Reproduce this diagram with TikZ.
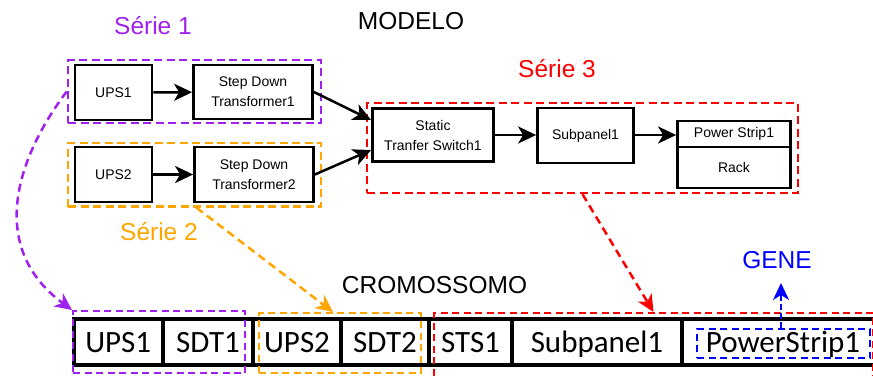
\documentclass[tikz,border=0pt]{standalone}
\usepackage{fontspec}
\setmainfont{Liberation Sans}
\newfontfamily\carl{Carlito}
\usetikzlibrary{arrows.meta,calc}
\definecolor{cpurple}{HTML}{A020F0}
\definecolor{corange}{HTML}{FFA500}
\definecolor{cred}{HTML}{FF0000}
\definecolor{cblue}{HTML}{0000FF}
\begin{document}
\begin{tikzpicture}[x=1pt,y=-1pt,
  box/.style={draw, line width=2.8pt, inner sep=0pt, align=center, font=\fontsize{14}{20}\selectfont},
  arr/.style={line width=2.5pt, -{Stealth[length=18pt,width=17pt,inset=5pt]}},
  grp/.style={draw, line width=2.5pt, dash pattern=on 8pt off 4.5pt, inner sep=0pt},
  cgrp/.style={draw, line width=2pt, dash pattern=on 7pt off 4.5pt, inner sep=0pt},
  darr/.style={line width=2.5pt, dash pattern=on 8pt off 5pt, -{Stealth[length=17pt,width=16pt,inset=5pt]}},
  cell/.style={draw, line width=4pt, inner sep=0pt, minimum height=46pt, text height=22pt, text depth=2pt, font=\carl\fontsize{31}{31}\selectfont},
  title/.style={font=\fontsize{24.5}{28}\selectfont, inner sep=0pt, anchor=base},
]
\path[use as bounding box] (0,0) rectangle (873,375);
\clip (0,0) rectangle (873,375);

% titles
\node[title, cpurple] (t1) at (153,34) {Série 1};
\node[title, corange] (t2) at (159,240.7) {Série 2};
\node[title, cred] (t3) at (557,77.5) {Série 3};
\node[title] (tmod) at (411,29.3) {MODELO};
\node[title] (tcro) at (434.5,293.3) {CROMOSSOMO};
\node[title, cblue] (tgene) at (777,268.3) {GENE};

% model boxes
\node[box, minimum width=77pt, minimum height=55pt] (ups1) at (113.5,92.5) {UPS1};
\node[box, minimum width=119pt, minimum height=54pt] (sdt1) at (253,92) {Step Down\\Transformer1};
\node[box, minimum width=77pt, minimum height=55pt] (ups2) at (113.5,174.5) {UPS2};
\node[box, minimum width=119pt, minimum height=55pt] (sdt2) at (254,174.5) {Step Down\\Transformer2};
\node[box, minimum width=121pt, minimum height=53pt] (sts) at (433,135) {Static\\Tranfer Switch1};
\node[box, minimum width=96pt, minimum height=55pt] (sub) at (585.5,135.5) {Subpanel1};
\node[box, minimum width=113pt, minimum height=26pt] (ps) at (734,134) {Power Strip1};
\node[box, minimum width=113pt, minimum height=41pt] (rack) at (734,167.5) {Rack};

% group frames
\node[grp, cpurple, minimum width=253pt, minimum height=63pt] (g1) at (194.5,91.5) {};
\node[grp, corange, minimum width=253pt, minimum height=63.5pt] (g2) at (194.5,174.75) {};
\node[grp, cred, minimum width=431pt, minimum height=90pt] (g3) at (582.5,148) {};

% model arrows
\draw[arr] (ups1) -- (sdt1);
\draw[arr] (ups2) -- (sdt2);
\draw[arr] (sdt1.east) -- ([yshift=15pt]sts.west);
\draw[arr] (sdt2.east) -- ([yshift=-15pt]sts.west);
\draw[arr] (sts.east) -- (sub.west |- sts.east);
\draw[arr] (sub.east |- sts.east) -- (ps.west |- sts.east);

% chromosome
\node[cell, minimum width=89.5pt] (k1) at (118.25,342) {UPS1};
\node[cell, minimum width=90pt] (k2) at (208,342) {SDT1};
\node[cell, minimum width=88pt] (k3) at (297,342) {UPS2};
\node[cell, minimum width=88pt] (k4) at (385,342) {SDT2};
\node[cell, minimum width=83pt] (k5) at (470.5,342) {STS1};
\node[cell, minimum width=170pt] (k6) at (597,342) {Subpanel1};
\node[cell, minimum width=202pt] (k7) at (783,342) {PowerStrip1};

% chromosome group frames
\node[cgrp, cpurple, minimum width=172pt, minimum height=62pt] (c1) at (159,342) {};
\node[cgrp, corange, minimum width=162pt, minimum height=60pt] (c2) at (340,343) {};
\node[cgrp, cred, minimum width=439pt, minimum height=67pt] (c3) at (653.5,346.5) {};
\node[cgrp, cblue, minimum width=173pt, minimum height=29pt] (c4) at (783.5,343.5) {};

% mapping arrows
\draw[darr, cpurple] (g1.west) .. controls (15,160) and (-12,248) .. (c1.north west);
\draw[darr, corange] ([xshift=2pt]g2.south) -- ([xshift=-7pt]c2.north);
\draw[darr, cred] (g3.south) -- (c3.north);
\coordinate (genetip) at (781,283);
\draw[darr, cblue, line width=2pt, dash pattern=on 6pt off 3pt] (c4.north -| genetip) -- (genetip);
\end{tikzpicture}
\end{document}
